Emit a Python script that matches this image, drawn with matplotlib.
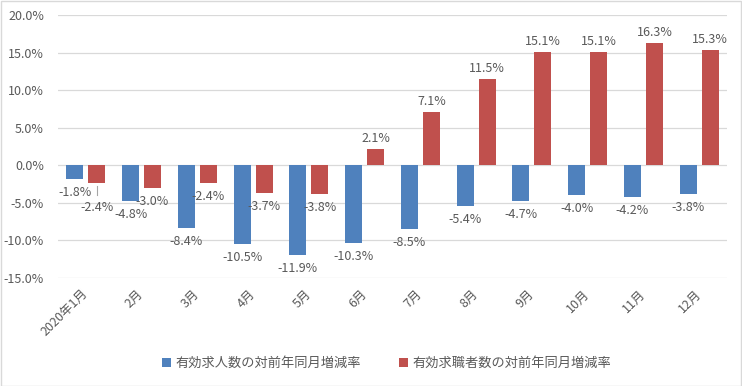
import matplotlib
matplotlib.use("Agg")
import matplotlib.pyplot as plt
import numpy as np
from matplotlib.ticker import FuncFormatter

plt.rcParams['font.family'] = ['Noto Sans CJK JP', 'DejaVu Sans']

months = ["2020年1月", "2月", "3月", "4月", "5月", "6月", "7月", "8月", "9月", "10月", "11月", "12月"]
jobs = [-1.8, -4.8, -8.4, -10.5, -11.9, -10.3, -8.5, -5.4, -4.7, -4.0, -4.2, -3.8]
seekers = [-2.4, -3.0, -2.4, -3.7, -3.8, 2.1, 7.1, 11.5, 15.1, 15.1, 16.3, 15.3]
labels = ["有効求人数の対前年同月増減率", "有効求職者数の対前年同月増減率"]

blue = "#4F81BD"
red = "#C0504D"
txt = "#595959"

fig = plt.figure(figsize=(7.42, 3.86), dpi=100)
ax = fig.add_axes([0.078, 0.280, 0.902, 0.681])

x = np.arange(len(months))
w = 0.305
off = 0.197
b1 = ax.bar(x - off, jobs, w, color=blue, label=labels[0], zorder=3)
b2 = ax.bar(x + off, seekers, w, color=red, label=labels[1], zorder=3)

fs = 9
for xi, v in zip(x, jobs):
    ax.annotate(f"{v:.1f}%", (xi - off, v), xytext=(0, -5), textcoords="offset points",
                ha="center", va="top", fontsize=fs, color=txt)
for i, (xi, v) in enumerate(zip(x, seekers)):
    if i == 0:
        ax.annotate(f"{v:.1f}%", (xi + off, v), xytext=(0, -13), textcoords="offset points",
                    ha="center", va="top", fontsize=fs, color=txt)
        ax.plot([xi + off, xi + off], [v - 0.3, v - 1.6], color="#A6A6A6", lw=0.8, zorder=4)
    elif v < 0:
        ax.annotate(f"{v:.1f}%", (xi + off, v), xytext=(0, -5), textcoords="offset points",
                    ha="center", va="top", fontsize=fs, color=txt)
    else:
        ax.annotate(f"{v:.1f}%", (xi + off, v), xytext=(0, 3), textcoords="offset points",
                    ha="center", va="bottom", fontsize=fs, color=txt)

ax.set_xlim(-0.5, len(months) - 0.5)
ax.set_ylim(-15, 20)
ax.set_yticks(np.arange(-15, 20.1, 5))
ax.yaxis.set_major_formatter(FuncFormatter(lambda v, p: f"{v:.1f}%"))
ax.grid(axis="y", color="#D9D9D9", lw=0.9, zorder=0)
for s in ax.spines.values():
    s.set_visible(False)
ax.tick_params(axis="both", length=0, labelsize=fs, colors=txt)
ax.tick_params(axis="y", pad=10)
ax.set_xticks(x)
ax.set_xticklabels(months, rotation=45, ha="right", va="center", rotation_mode="anchor")
ax.tick_params(axis="x", pad=10)

leg = fig.legend(handles=[b1, b2], loc="center", bbox_to_anchor=(0.521, 0.058), ncol=2,
                 frameon=False, fontsize=9.5, handlelength=0.7, handleheight=0.7,
                 handletextpad=0.3, columnspacing=2.9)
for t in leg.get_texts():
    t.set_color(txt)

fig.patches.append(plt.Rectangle((0.001, 0.001), 0.998, 0.997, transform=fig.transFigure,
                                 fill=False, edgecolor="#D9D9D9", lw=1))
fig.savefig("out.png", dpi=100, facecolor="white")
